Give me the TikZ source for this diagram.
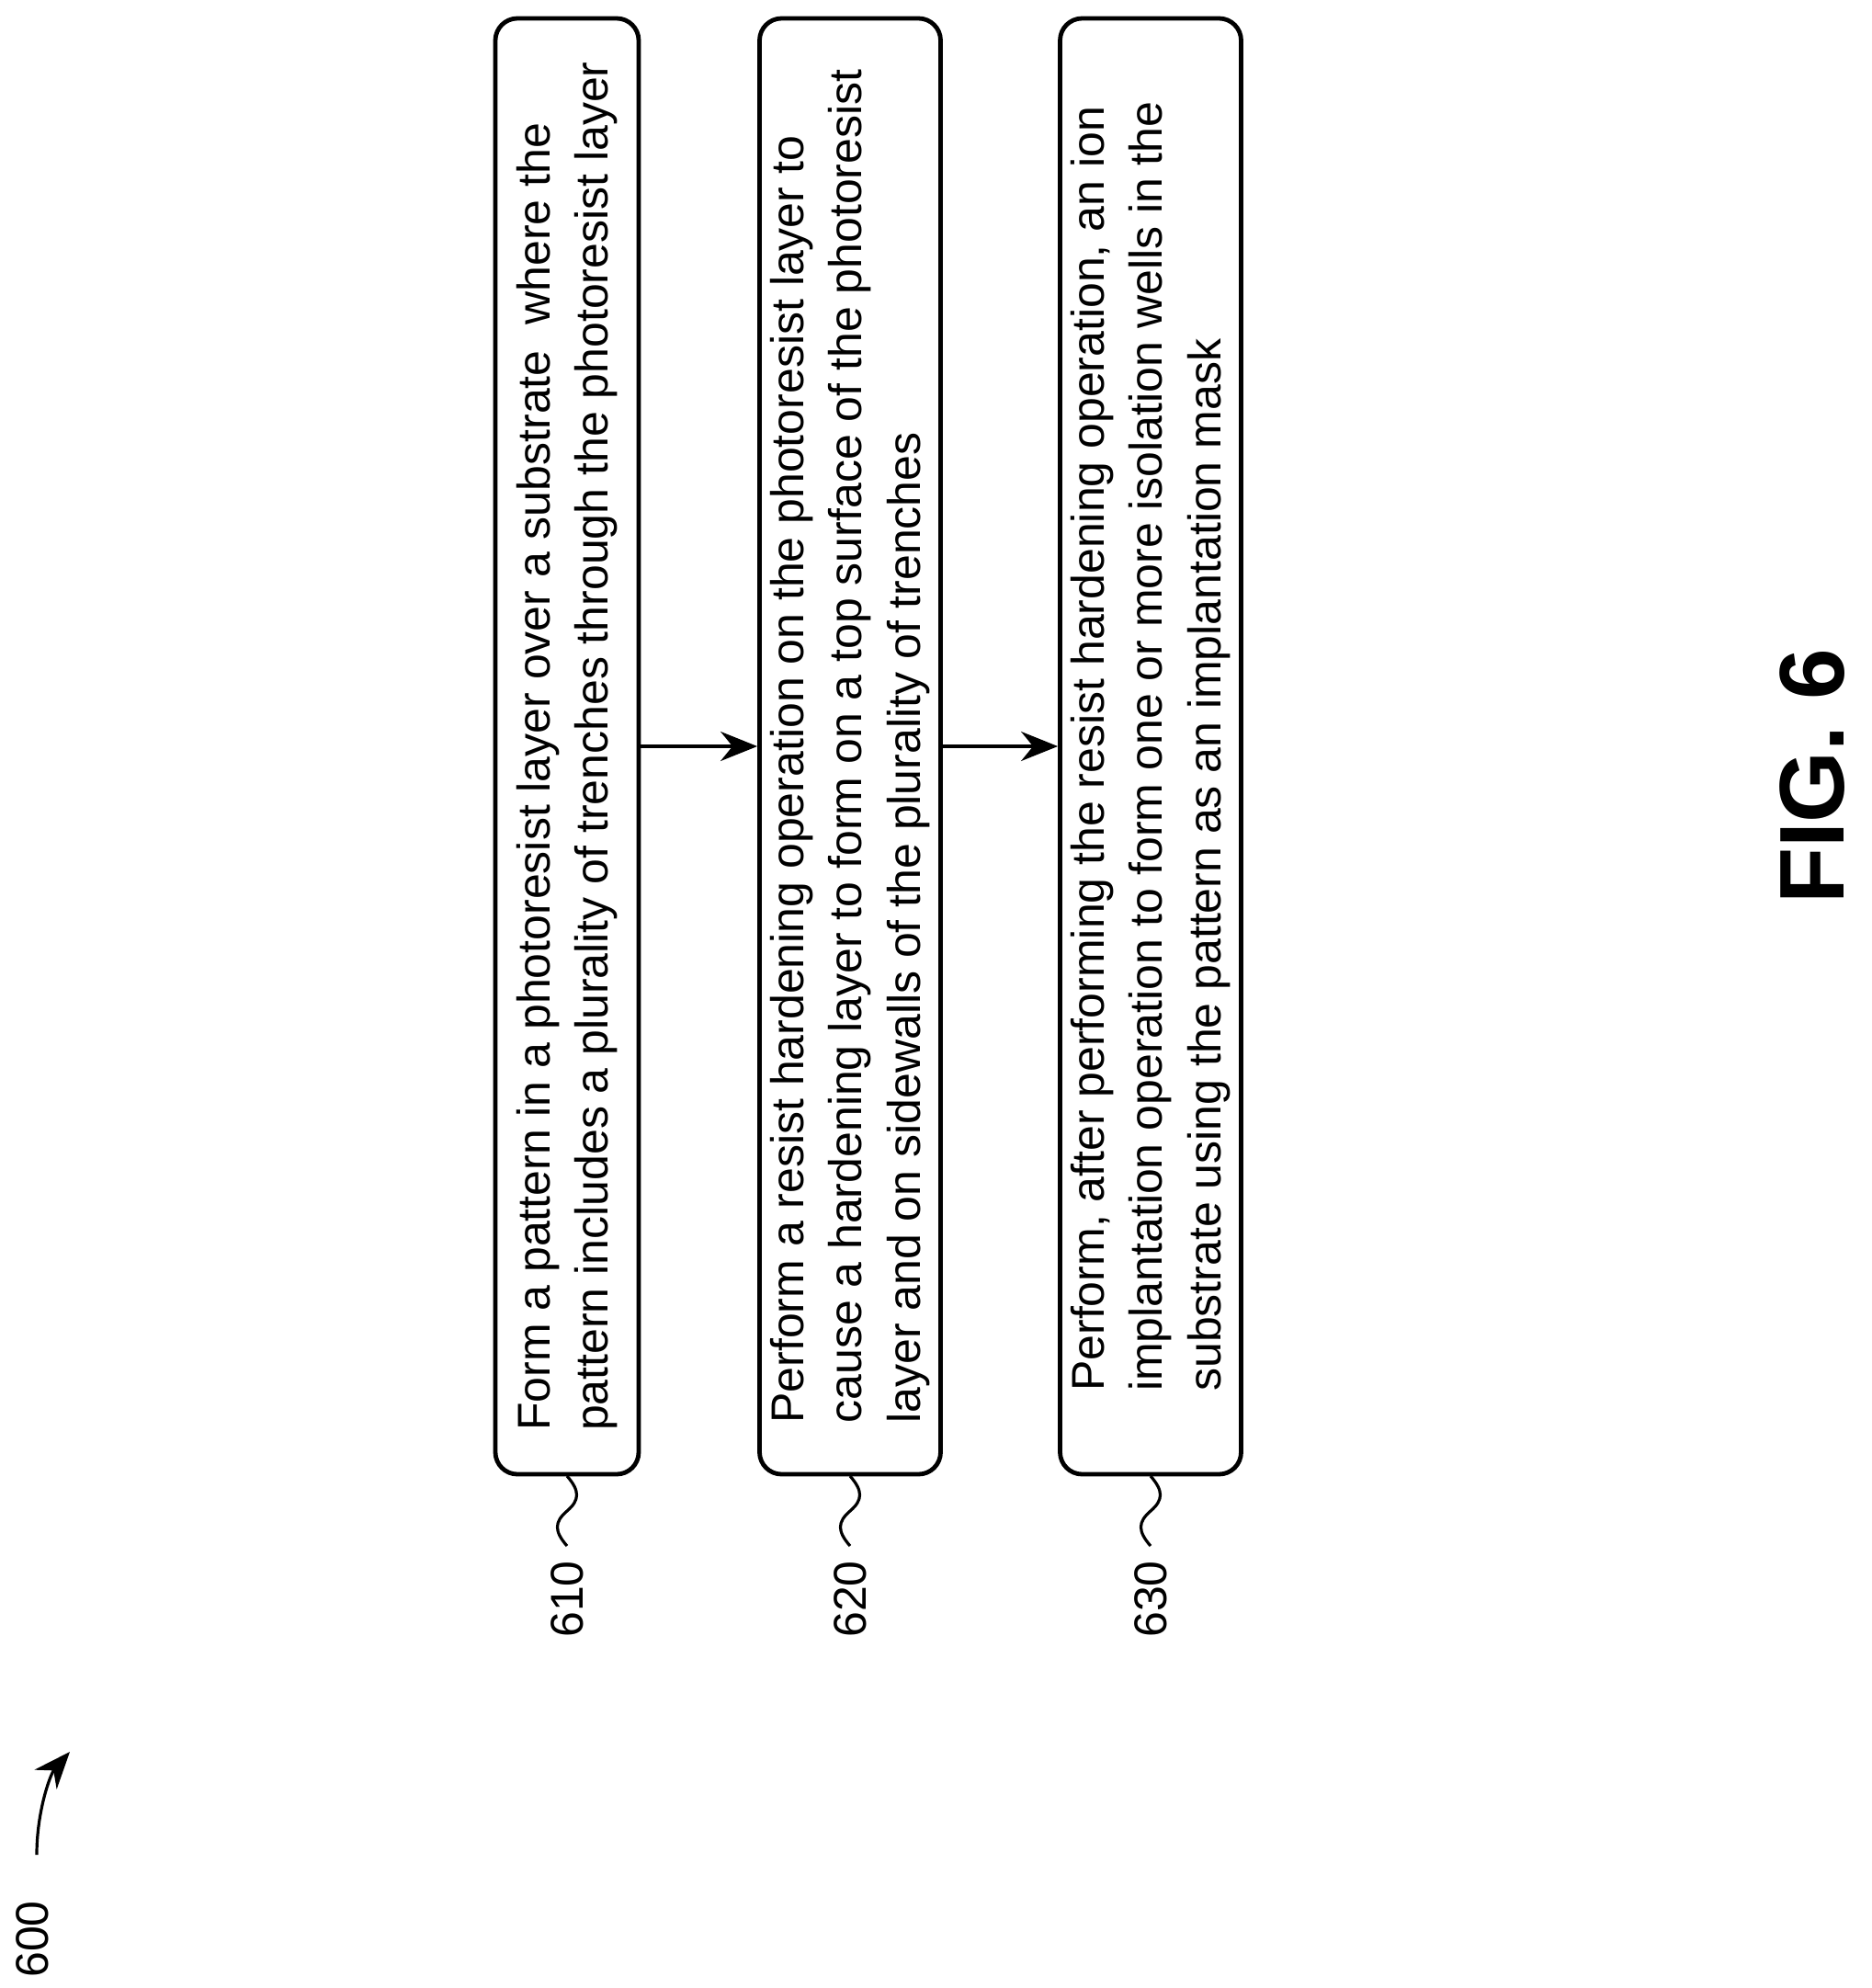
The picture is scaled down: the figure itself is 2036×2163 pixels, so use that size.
\documentclass[tikz,border=0pt]{standalone}
\usepackage{fontspec}
\setmainfont{Liberation Sans}
\usetikzlibrary{arrows.meta}
\tikzset{
  stepbox/.style={draw, line width=1.2pt, rounded corners=6pt, rotate=90,
    minimum width=396pt, minimum height=39pt, inner xsep=9pt, inner ysep=3pt,
    align=left, font=\fontsize{12.5}{15.8}\selectfont},
  reflabel/.style={rotate=90, font=\fontsize{12.5}{15}\selectfont},
  flowarrow/.style={-{Stealth[length=10pt,width=8pt]}, line width=0.8pt},
  squiggle/.style={line width=0.8pt}
}
\begin{document}
\begin{tikzpicture}[x=0.25pt,y=-0.25pt]
\useasboundingbox (0,0) rectangle (2036,2163);

% process steps
\node[stepbox] (s610) at (617,812) {Form a pattern in a photoresist layer over a substrate\ \ where the\\pattern includes a plurality of trenches through the photoresist layer};
\node[stepbox] (s620) at (925,812) {Perform a resist hardening operation on the photoresist layer to\\cause a hardening layer to form on a top surface of the photoresist\\layer and on sidewalls of the plurality of trenches};
\node[stepbox] (s630) at (1252,812) {Perform, after performing the resist hardening operation, an ion\\implantation operation to form one or more isolation wells in the\\substrate using the pattern as an implantation mask};

\draw[flowarrow] (s610.south) -- (s620.north);
\draw[flowarrow] (s620.south) -- (s630.north);

% reference numerals
\foreach \n/\x in {610/617, 620/925, 630/1252}
{
	\node[reflabel] (r\n) at (\x,1740) {\n};
	\draw[squiggle] (\x,1606) .. controls (\x+14,1622) and (\x+14,1632) .. (\x,1644) .. controls (\x-14,1656) and (\x-14,1666) .. (\x,1682);
}

\node[reflabel] (r600) at (35,2110) {600};
\coordinate (a600) at (76,1906);
\draw[flowarrow] (40,2018) .. controls (40,1970) and (55,1930) .. (a600);

\node[rotate=90, font=\bfseries\fontsize{25}{25}\selectfont] (fig) at (1972,845) {FIG. 6};
\end{tikzpicture}
\end{document}
